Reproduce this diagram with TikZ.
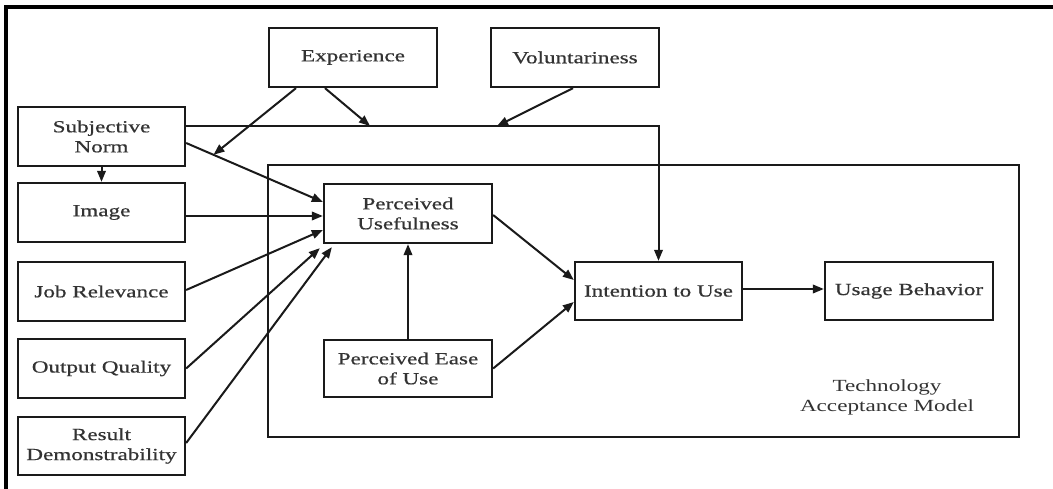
\documentclass[tikz,border=0pt]{standalone}
\usepackage{fontspec}
\setmainfont{Liberation Serif}[FakeStretch=1.36,FakeBold=0.6]
\newfontfamily\lightserif{Liberation Serif}[FakeStretch=1.36]
\usetikzlibrary{arrows.meta,calc}
\definecolor{boxc}{HTML}{1A1A1A}
\definecolor{txt}{HTML}{333333}
\begin{document}
\begin{tikzpicture}[x=1pt,y=-1pt,
  box/.style={draw=boxc, line width=2.3pt, minimum width=168pt, minimum height=59pt,
    inner sep=0pt, align=center, font=\fontsize{17}{20}\selectfont, text=txt},
  link/.style={draw=boxc, line width=2pt, -{Triangle[length=11pt,width=8.5pt]}},
  frameline/.style={draw=black, line width=3.5pt}]
\useasboundingbox (0,0) rectangle (1053,489);
\fill[white] (0,0) rectangle (1053,489);

% outer frame (top and left edges)
\draw[frameline] (6,489) -- (6,7) -- (1053,7);

% Technology Acceptance Model container
\node[draw=boxc, line width=2.3pt, minimum width=751pt, minimum height=272pt, inner sep=0pt]
  (tam) at (643.5,301) {};
\node[align=center, font=\lightserif\fontsize{17}{20}\selectfont, text=txt] (tamlabel) at (887,397)
  {Technology\\Acceptance Model};

% boxes
\node[box] (exp)  at (353,57.5)   {Experience};
\node[box] (vol)  at (575,57.5)   {Voluntariness};
\node[box, minimum width=167pt] (sn)   at (101.5,136.5) {Subjective\\Norm};
\node[box, minimum width=167pt] (img)  at (101.5,212.5) {Image};
\node[box, minimum width=167pt] (jr)   at (101.5,291.5) {Job Relevance};
\node[box, minimum width=167pt] (oq)   at (101.5,368.5) {Output Quality};
\node[box, minimum width=167pt, minimum height=58pt] (rd) at (101.5,446) {Result\\Demonstrability};
\node[box] (pu)   at (408,213.5)  {Perceived\\Usefulness};
\node[box, minimum height=57pt] (peou) at (408,368.5) {Perceived Ease\\of Use};
\node[box, minimum width=167pt, minimum height=58pt] (itu) at (658.5,291) {Intention to Use};
\node[box, minimum height=58pt] (ub) at (909,291) {Usage Behavior};

% subjective norm -> perceived usefulness, moderated by experience
\coordinate (snA) at ($(sn.east)+(0,6.5)$);
\coordinate (puA) at ($(pu.west)+(0,-11.5)$);
\draw[link] (snA) -- (puA);
\coordinate (m1) at ($(snA)!0.2!(puA)$);
\draw[link] ($(exp.south)+(-57,0)$) -- (m1);

% subjective norm -> intention to use, moderated by experience and voluntariness
\coordinate (snB) at ($(sn.east)+(0,-10.5)$);
\draw[link] (snB) -| (itu.north);
\coordinate (m2) at (370,126);
\coordinate (m3) at (497,126);
\draw[link] ($(exp.south)+(-28,0)$) -- (m2);
\draw[link] ($(vol.south)+(-2,0)$) -- (m3);

% subjective norm -> image
\draw[link] (sn.south) -- (img.north);

% determinants of perceived usefulness
\draw[link] ($(img.east)+(0,3.5)$) -- ($(pu.west)+(0,2.5)$);
\draw[link] ($(jr.east)+(0,-1.5)$) -- ($(pu.west)+(0,16.5)$);
\draw[link] (oq.east) -- ($(pu.south west)+(-3,4)$);
\draw[link] ($(rd.east)+(0,-3)$) -- ($(pu.south west)+(9,3)$);

% core model
\draw[link] (peou.north) -- (pu.south);
\draw[link] ($(pu.east)+(0,1.5)$) -- ($(itu.west)+(0,-11)$);
\draw[link] (peou.east) -- ($(itu.west)+(0,11)$);
\draw[link] ($(itu.east)+(0,-2)$) -- ($(ub.west)+(0,-2)$);
\end{tikzpicture}
\end{document}
